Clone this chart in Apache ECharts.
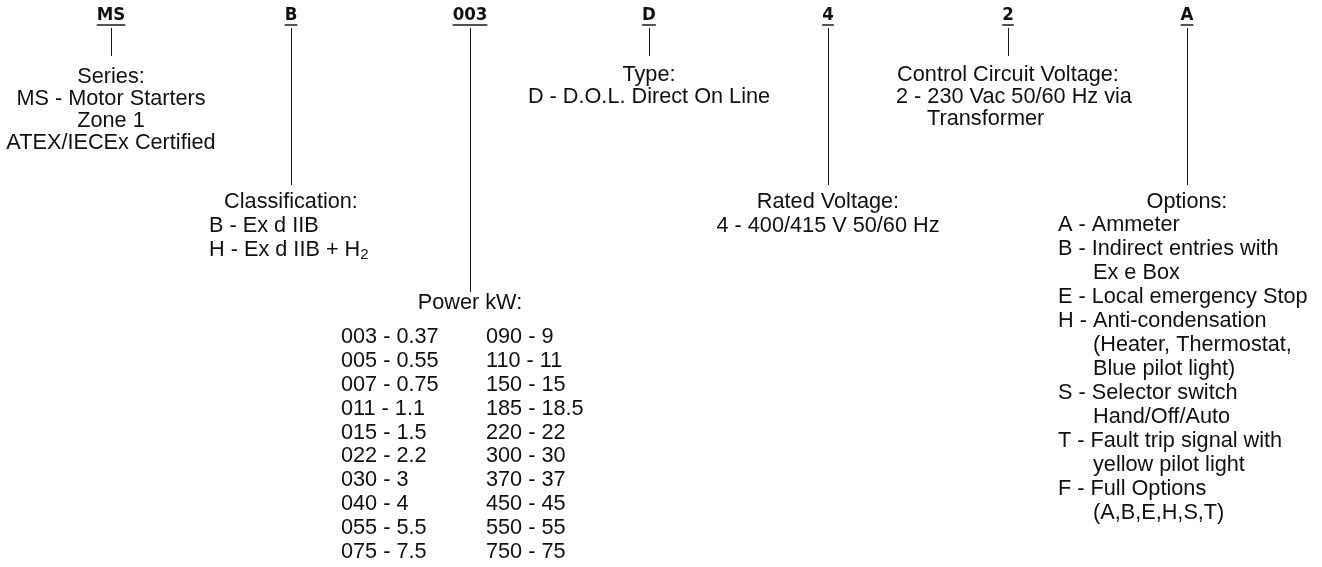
<!DOCTYPE html>
<html><head><meta charset="utf-8">
<script src="https://cdn.jsdelivr.net/npm/echarts@6/dist/echarts.min.js"></script>
<style>html,body{margin:0;padding:0;background:#fff}#c{width:1322px;height:567px}</style>
</head><body><div id="c"></div>
<script>
// ---------- data ----------
const codes = ['MS', 'B', '003', 'D', '4', '2', 'A'];
const fieldTitles = ['Series:', 'Classification:', 'Power kW:', 'Type:', 'Rated Voltage:', 'Control Circuit Voltage:', 'Options:'];
const seriesItems = [['MS', 'Motor Starters', 'Zone 1', 'ATEX/IECEx Certified']];
const classificationItems = [['B', 'Ex d IIB'], ['H', 'Ex d IIB + H₂']];
const powerCodes = ['003', '005', '007', '011', '015', '022', '030', '040', '055', '075',
                    '090', '110', '150', '185', '220', '300', '370', '450', '550', '750'];
const powerKW = ['0.37', '0.55', '0.75', '1.1', '1.5', '2.2', '3', '4', '5.5', '7.5',
                 '9', '11', '15', '18.5', '22', '30', '37', '45', '55', '75'];
const typeItems = [['D', 'D.O.L. Direct On Line']];
const ratedVoltageItems = [['4', '400/415 V 50/60 Hz']];
const controlVoltageItems = [['2', '230 Vac 50/60 Hz via', 'Transformer']];
const optionItems = [
  ['A', 'Ammeter'],
  ['B', 'Indirect entries with', 'Ex e Box'],
  ['E', 'Local emergency Stop'],
  ['H', 'Anti-condensation', '(Heater, Thermostat,', 'Blue pilot light)'],
  ['S', 'Selector switch', 'Hand/Off/Auto'],
  ['T', 'Fault trip signal with', 'yellow pilot light'],
  ['F', 'Full Options', '(A,B,E,H,S,T)']
];
const fieldItems = [seriesItems, classificationItems, null, typeItems, ratedVoltageItems, controlVoltageItems, optionItems];

// ---------- layout (positions / styles) ----------
const W = 1322, H = 567;
const ink = '#111111';
const bodyFont = "'Liberation Sans', Arial, Helvetica, sans-serif";
const headFont = "'Liberation Sans Narrow', 'DejaVu Sans Condensed', 'Liberation Sans', sans-serif";
const FS = 21.7, HEAD_FS = 18.5;
const layout = [
  {x: 111,  stemEnd: 56,  titleY: 77,  mode: 'center', itemX: 111,  itemY: 99,  lh: 22},
  {x: 291,  stemEnd: 185, titleY: 202, mode: 'hang',   itemX: 209,  itemY: 226, lh: 24, indent: 33},
  {x: 470,  stemEnd: 292, titleY: 303, mode: 'table',  itemX: 341,  itemY: 337, lh: 23.9, colW: 145},
  {x: 649,  stemEnd: 56,  titleY: 75,  mode: 'center', itemX: 649,  itemY: 97,  lh: 22},
  {x: 828,  stemEnd: 185, titleY: 202, mode: 'center', itemX: 828,  itemY: 226, lh: 24},
  {x: 1008, stemEnd: 56,  titleY: 75,  mode: 'hang',   itemX: 896,  itemY: 97,  lh: 22, indent: 31},
  {x: 1187, stemEnd: 185, titleY: 202, mode: 'hang',   itemX: 1058, itemY: 225, lh: 24, indent: 35}
];
const headY = 15, underlineY = 24.5, stemTop = 28;

// measure header widths for underline
const ctx = document.createElement('canvas').getContext('2d');
ctx.font = 'bold ' + HEAD_FS + 'px ' + headFont;

const lineData = [];
const textData = [];
codes.forEach((code, i) => {
  const L = layout[i];
  const cx = Math.round(L.x) + 0.5;
  const w = ctx.measureText(code).width;
  lineData.push({coords: [[cx, stemTop], [cx, L.stemEnd]]});
  lineData.push({coords: [[L.x - w / 2, underlineY], [L.x + w / 2, underlineY]], lineStyle: {width: 1.5}});
  textData.push({
    value: [L.x, headY], txt: code,
    label: {align: 'center', verticalAlign: 'middle', fontFamily: headFont, fontWeight: 'bold', fontSize: HEAD_FS, lineHeight: HEAD_FS}
  });
  textData.push({
    value: [L.x, L.titleY], txt: fieldTitles[i],
    label: {align: 'center', verticalAlign: 'middle', lineHeight: 24}
  });
  let txt, align = 'left', rich = {};
  const subFix = s => s.replace(/₂/g, '{sub|2}');
  if (L.mode === 'center') {
    const lines = [];
    fieldItems[i].forEach(it => {
      lines.push(it[0] + ' - ' + it[1]);
      it.slice(2).forEach(s => lines.push(s));
    });
    txt = lines.join('\n');
    align = 'center';
  } else if (L.mode === 'hang') {
    const lines = [];
    fieldItems[i].forEach(it => {
      lines.push(it[0] + ' - ' + subFix(it[1]));
      it.slice(2).forEach(s => lines.push('{k| }' + subFix(s)));
    });
    txt = lines.join('\n');
    rich = {
      k: {width: L.indent, fontSize: FS, lineHeight: L.lh, fontFamily: bodyFont, color: ink},
      sub: {fontSize: 15, lineHeight: 13, verticalAlign: 'bottom', fontFamily: bodyFont, color: ink}
    };
  } else {
    const n = powerCodes.length / 2;
    const lines = [];
    for (let r = 0; r < n; r++) {
      lines.push('{c1|' + powerCodes[r] + ' - ' + powerKW[r] + '}' + powerCodes[r + n] + ' - ' + powerKW[r + n]);
    }
    txt = lines.join('\n');
    rich = {c1: {width: L.colW, fontSize: FS, lineHeight: L.lh, fontFamily: bodyFont, color: ink}};
  }
  textData.push({
    value: [L.itemX, L.itemY - L.lh / 2], txt: txt,
    label: {align: align, verticalAlign: 'top', lineHeight: L.lh, rich: rich}
  });
});

const chart = echarts.init(document.getElementById('c'), null, {renderer: 'canvas'});
chart.setOption({
  animation: false,
  backgroundColor: '#fff',
  grid: {left: 0, right: 0, top: 0, bottom: 0},
  xAxis: {type: 'value', min: 0, max: W, show: false},
  yAxis: {type: 'value', min: 0, max: H, inverse: true, show: false},
  series: [
    {
      type: 'lines', coordinateSystem: 'cartesian2d', silent: true, z: 1,
      lineStyle: {color: '#1a1a1a', width: 1, opacity: 1, curveness: 0},
      data: lineData
    },
    {
      type: 'scatter', silent: true, z: 2, symbol: 'circle', symbolSize: 0,
      itemStyle: {color: ink, opacity: 1},
      label: {
        show: true, position: [0, 0], color: ink, opacity: 1, fontFamily: bodyFont, fontSize: FS,
        formatter: p => p.data.txt
      },
      data: textData
    }
  ]
});
</script></body></html>
